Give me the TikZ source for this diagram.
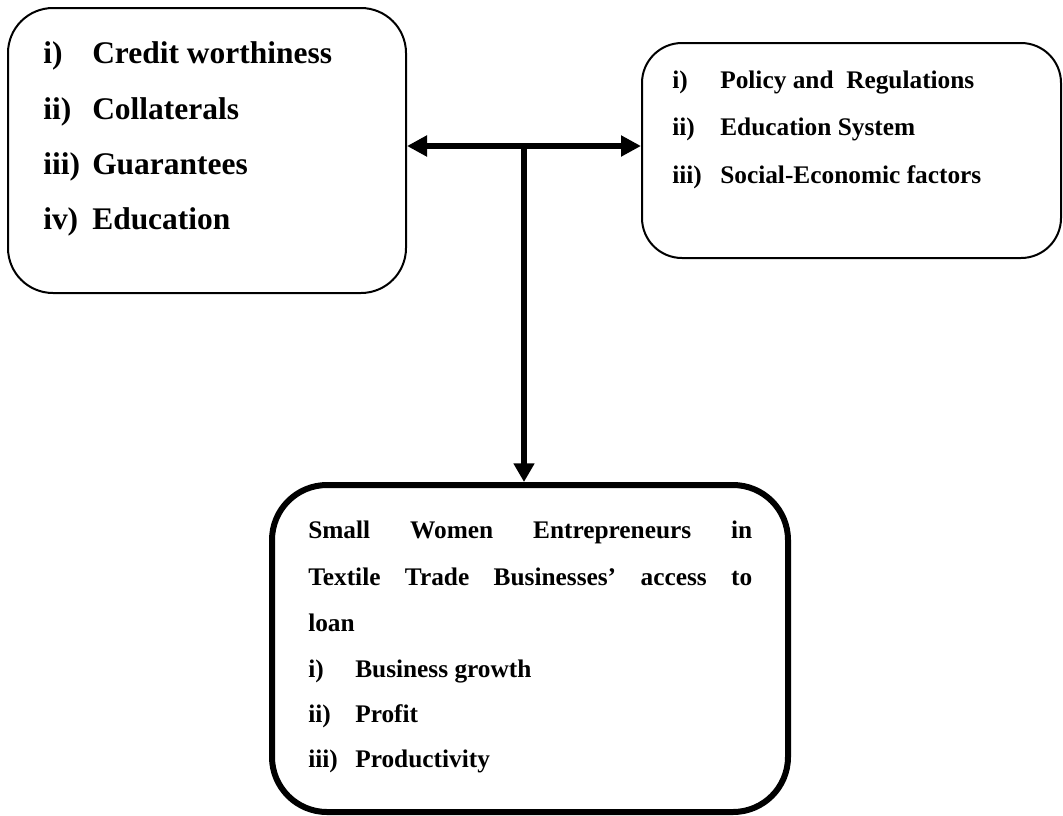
\documentclass[tikz,border=0pt]{standalone}
\usepackage{fontspec}
\setmainfont{Liberation Serif}
\usetikzlibrary{arrows.meta}
\begin{document}
\begin{tikzpicture}[x=0.75pt,y=-0.75pt,
  box/.style={draw, rectangle, inner sep=0pt},
  thinbox/.style={box, line width=1.5pt},
  thickbox/.style={box, line width=4.5pt},
  big/.style={anchor=base west, inner sep=0pt, font=\fontsize{23.6pt}{28pt}\selectfont\bfseries},
  mid/.style={anchor=base west, inner sep=0pt, font=\fontsize{19pt}{23pt}\selectfont\bfseries},
  link/.style={line width=4.5pt},
  dbl/.style={link, {Triangle[length=15pt,width=15pt]}-{Triangle[length=15pt,width=15pt]}},
  down/.style={link, -{Triangle[length=14pt,width=15pt]}}
]
\useasboundingbox (0,0) rectangle (1063,815);

% boxes
\node[thinbox, rounded corners=33.75pt, minimum width=298.5pt, minimum height=213.75pt] (lbox) at (207,150.5) {};
\node[thinbox, rounded corners=30pt, minimum width=314.25pt, minimum height=161.25pt] (rbox) at (851.5,150.5) {};
\node[thickbox, rounded corners=41.25pt, minimum width=387pt, minimum height=245.25pt] (bbox) at (530,648.5) {};

% left box items
\node[big] (l1n) at (43,63) {i)};   \node[big] (l1t) at (92,63) {Credit worthiness};
\node[big] (l2n) at (43,119) {ii)};  \node[big] (l2t) at (92,119) {Collaterals};
\node[big] (l3n) at (43,174) {iii)}; \node[big] (l3t) at (92,174) {Guarantees};
\node[big] (l4n) at (43,229) {iv)};  \node[big] (l4t) at (92,229) {Education};

% right box items
\node[mid] (r1n) at (672,88) {i)};   \node[mid] (r1t) at (720,88) {Policy and\ \ Regulations};
\node[mid] (r2n) at (672,135) {ii)};  \node[mid] (r2t) at (720,135) {Education System};
\node[mid] (r3n) at (672,183) {iii)}; \node[mid] (r3t) at (720,183) {Social-Economic factors};

% bottom box text
\node[mid] (b1) at (308,538) {\hbox to 333pt{Small\hfill Women\hfill Entrepreneurs\hfill in}};
\node[mid] (b2) at (308,585) {\hbox to 333pt{Textile\hfill Trade\hfill Businesses’\hfill access\hfill to}};
\node[mid] (b3) at (308,631) {loan};
\node[mid] (b4n) at (308,677) {i)};   \node[mid] (b4t) at (355,677) {Business growth};
\node[mid] (b5n) at (308,722) {ii)};  \node[mid] (b5t) at (355,722) {Profit};
\node[mid] (b6n) at (308,767) {iii)}; \node[mid] (b6t) at (355,767) {Productivity};

% connectors
\coordinate (jn) at (524,146);
\draw[dbl] (lbox.east |- jn) -- (rbox.west |- jn);
\draw[down] (jn) -- (jn |- bbox.north);
\end{tikzpicture}
\end{document}
